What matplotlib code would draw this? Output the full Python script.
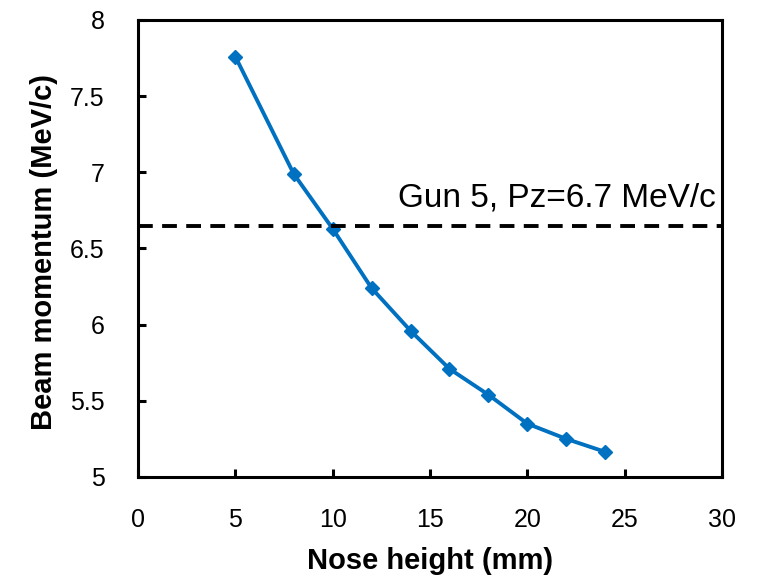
import matplotlib.pyplot as plt

nose_height = [5, 8, 10, 12, 14, 16, 18, 20, 22, 24]
momentum = [7.76, 6.99, 6.63, 6.24, 5.96, 5.71, 5.54, 5.35, 5.25, 5.165]
gun5_x = [0, 30]
gun5_pz = [6.65, 6.65]

plt.rcParams['font.family'] = ['Liberation Sans', 'DejaVu Sans']

fig = plt.figure(figsize=(7.58, 5.8), dpi=100)
ax = fig.add_axes([0.182, 0.1776, 0.7705, 0.788])

ax.plot(nose_height, momentum, color='#0070C0', linewidth=2.8,
        marker='D', markersize=7.5)
ax.plot(gun5_x, gun5_pz, color='black', linestyle=(0, (3.8, 2.4)), linewidth=2.8)
ax.text(29.7, 6.83, "Gun 5, Pz=6.7 MeV/c", ha='right', va='center', fontsize=24)

ax.set_xlim(0, 30)
ax.set_ylim(5, 8)
ax.set_xticks([0, 5, 10, 15, 20, 25, 30])
ax.set_yticks([5, 5.5, 6, 6.5, 7, 7.5, 8])
ax.set_yticklabels(["5", "5.5", "6", "6.5", "7", "7.5", "8"])
ax.tick_params(direction='in', length=6, width=2.2, labelsize=18)
ax.tick_params(axis='x', pad=22)
ax.tick_params(axis='y', pad=24)
for s in ax.spines.values():
    s.set_linewidth(2.2)

ax.set_xlabel("Nose height (mm)", fontsize=21, fontweight='bold')
ax.set_ylabel("Beam momentum (MeV/c)", fontsize=21, fontweight='bold')
ax.xaxis.set_label_coords(0.5, -0.153)
ax.yaxis.set_label_coords(-0.137, 0.492)

plt.savefig("out.png")
